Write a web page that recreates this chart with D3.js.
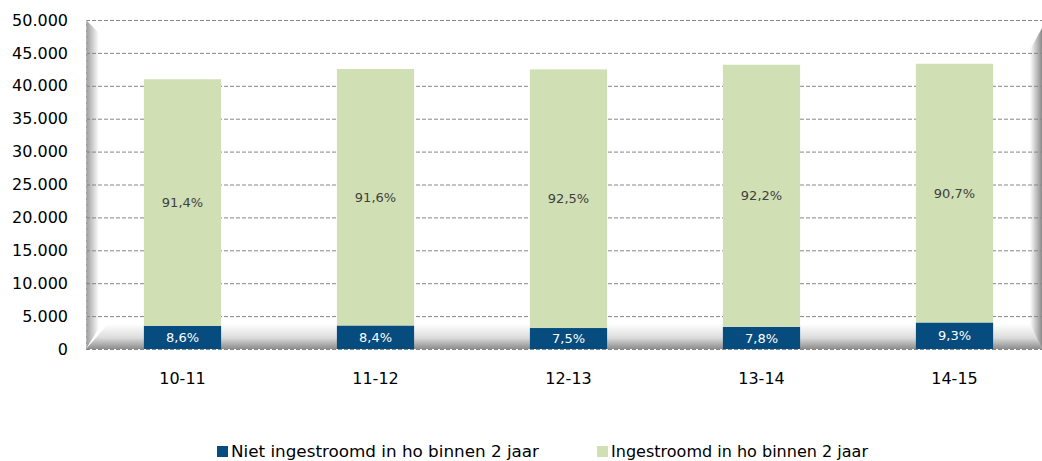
<!DOCTYPE html>
<html><head><meta charset="utf-8">
<script src="https://cdn.jsdelivr.net/npm/d3@7"></script>
<style>body{margin:0;background:#fff;}svg{display:block;font-family:"DejaVu Sans",sans-serif;}</style>
</head><body><svg id="c" width="1042" height="461"></svg>
<script>
const categories = ["10-11","11-12","12-13","13-14","14-15"];
const totals = [41000, 42550, 42500, 43200, 43350];
const pctNiet = [8.6, 8.4, 7.5, 7.8, 9.3];
const pctIn = [91.4, 91.6, 92.5, 92.2, 90.7];
const yTicks = [0,5000,10000,15000,20000,25000,30000,35000,40000,45000,50000];
const seriesNames = ["Niet ingestroomd in ho binnen 2 jaar","Ingestroomd in ho binnen 2 jaar"];
const colors = ["#064c7e","#d1dfb4"];

(function(){
const niet = totals.map((t,i)=>t*pctNiet[i]/100);

const svg = d3.select("#c");
const pL=86, pR=1042, pT=20, pB=349;
const y = d3.scaleLinear().domain([0,50000]).range([pB,pT]);
const x = d3.scaleBand().domain(categories).range([86,1051]).paddingInner(0.6).paddingOuter(0.3);

const defs = svg.append("defs");
const gl = defs.append("linearGradient").attr("id","gl").attr("x1",0).attr("x2",1).attr("y1",0).attr("y2",0);
gl.append("stop").attr("offset",0).attr("stop-color","#9a9a9a");
gl.append("stop").attr("offset",1).attr("stop-color","#ffffff");
const gf = defs.append("linearGradient").attr("id","gf").attr("x1",0).attr("x2",0).attr("y1",0).attr("y2",1);
gf.append("stop").attr("offset",0).attr("stop-color","#ffffff");
gf.append("stop").attr("offset",0.55).attr("stop-color","#dcdcdc");
gf.append("stop").attr("offset",1).attr("stop-color","#8c8c8c");
const gr = defs.append("linearGradient").attr("id","gr").attr("x1",0).attr("x2",1).attr("y1",0).attr("y2",0);
gr.append("stop").attr("offset",0).attr("stop-color","#ffffff");
gr.append("stop").attr("offset",1).attr("stop-color","#8a8a8a");

// walls & floor
svg.append("polygon").attr("points",`${pL},${pT} 99,33 99,328 ${pL},${pB}`).attr("fill","url(#gl)");
svg.append("polygon").attr("points",`${pL},${pB} 108,324 1030,324 1042,349`).attr("fill","url(#gf)");
svg.append("polygon").attr("points",`1030,50 1042,28 1042,349 1030,324`).attr("fill","url(#gr)");

// gridlines
svg.append("g").selectAll("line").data(yTicks).join("line")
  .attr("x1",pL).attr("x2",pR).attr("y1",d=>y(d)+0.5).attr("y2",d=>y(d)+0.5)
  .attr("stroke","#868686").attr("stroke-width",1).attr("stroke-dasharray","4,2");
svg.append("line").attr("x1",pL+0.5).attr("x2",pL+0.5).attr("y1",pT).attr("y2",pB)
  .attr("stroke","#b8b8b8").attr("stroke-dasharray","4,2");

// y axis
const fmt = d=>d3.format(",")(d).replace(/,/g,".");
const ya = svg.append("g").attr("transform",`translate(68,0)`)
  .call(d3.axisLeft(y).tickValues(yTicks).tickFormat(fmt).tickSize(0).tickPadding(0));
ya.select(".domain").remove();
ya.selectAll("text").attr("font-size",16).attr("fill","#000").attr("font-family","DejaVu Sans");

// x axis
const xa = svg.append("g").attr("transform",`translate(0,${pB})`)
  .call(d3.axisBottom(x).tickSize(0).tickPadding(24));
xa.select(".domain").remove();
xa.selectAll("text").attr("font-size",16).attr("fill","#000").attr("font-family","DejaVu Sans");

// bars
const g = svg.append("g");
g.selectAll(".n").data(categories).join("rect")
  .attr("x",d=>x(d)).attr("width",x.bandwidth())
  .attr("y",(d,i)=>y(niet[i])).attr("height",(d,i)=>y(0)-y(niet[i])).attr("fill",colors[0]);
g.selectAll(".i").data(categories).join("rect")
  .attr("x",d=>x(d)).attr("width",x.bandwidth())
  .attr("y",(d,i)=>y(totals[i])).attr("height",(d,i)=>y(niet[i])-y(totals[i])).attr("fill",colors[1]);
const pf = v=>v.toFixed(1).replace(".",",")+"%";
g.selectAll(".tn").data(categories).join("text")
  .attr("x",d=>x(d)+x.bandwidth()/2).attr("y",(d,i)=>(y(0)+y(niet[i]))/2).attr("dy","0.36em")
  .attr("text-anchor","middle").attr("font-size",13).attr("fill","#fff").text((d,i)=>pf(pctNiet[i]));
g.selectAll(".ti").data(categories).join("text")
  .attr("x",d=>x(d)+x.bandwidth()/2).attr("y",(d,i)=>(y(niet[i])+y(totals[i]))/2).attr("dy","0.36em")
  .attr("text-anchor","middle").attr("font-size",13).attr("fill","#404040").text((d,i)=>pf(pctIn[i]));

// legend
const legX = [217,597];
const legW = [308,257];
const lg = svg.append("g");
seriesNames.forEach((n,i)=>{
  lg.append("rect").attr("x",legX[i]).attr("y",446).attr("width",11).attr("height",11).attr("fill",colors[i]);
  lg.append("text").attr("x",legX[i]+14).attr("y",451).attr("dy","0.38em").attr("font-size",16)
    .attr("textLength",legW[i]).attr("lengthAdjust","spacingAndGlyphs").attr("fill","#000").text(n);
});
})();
</script></body></html>
